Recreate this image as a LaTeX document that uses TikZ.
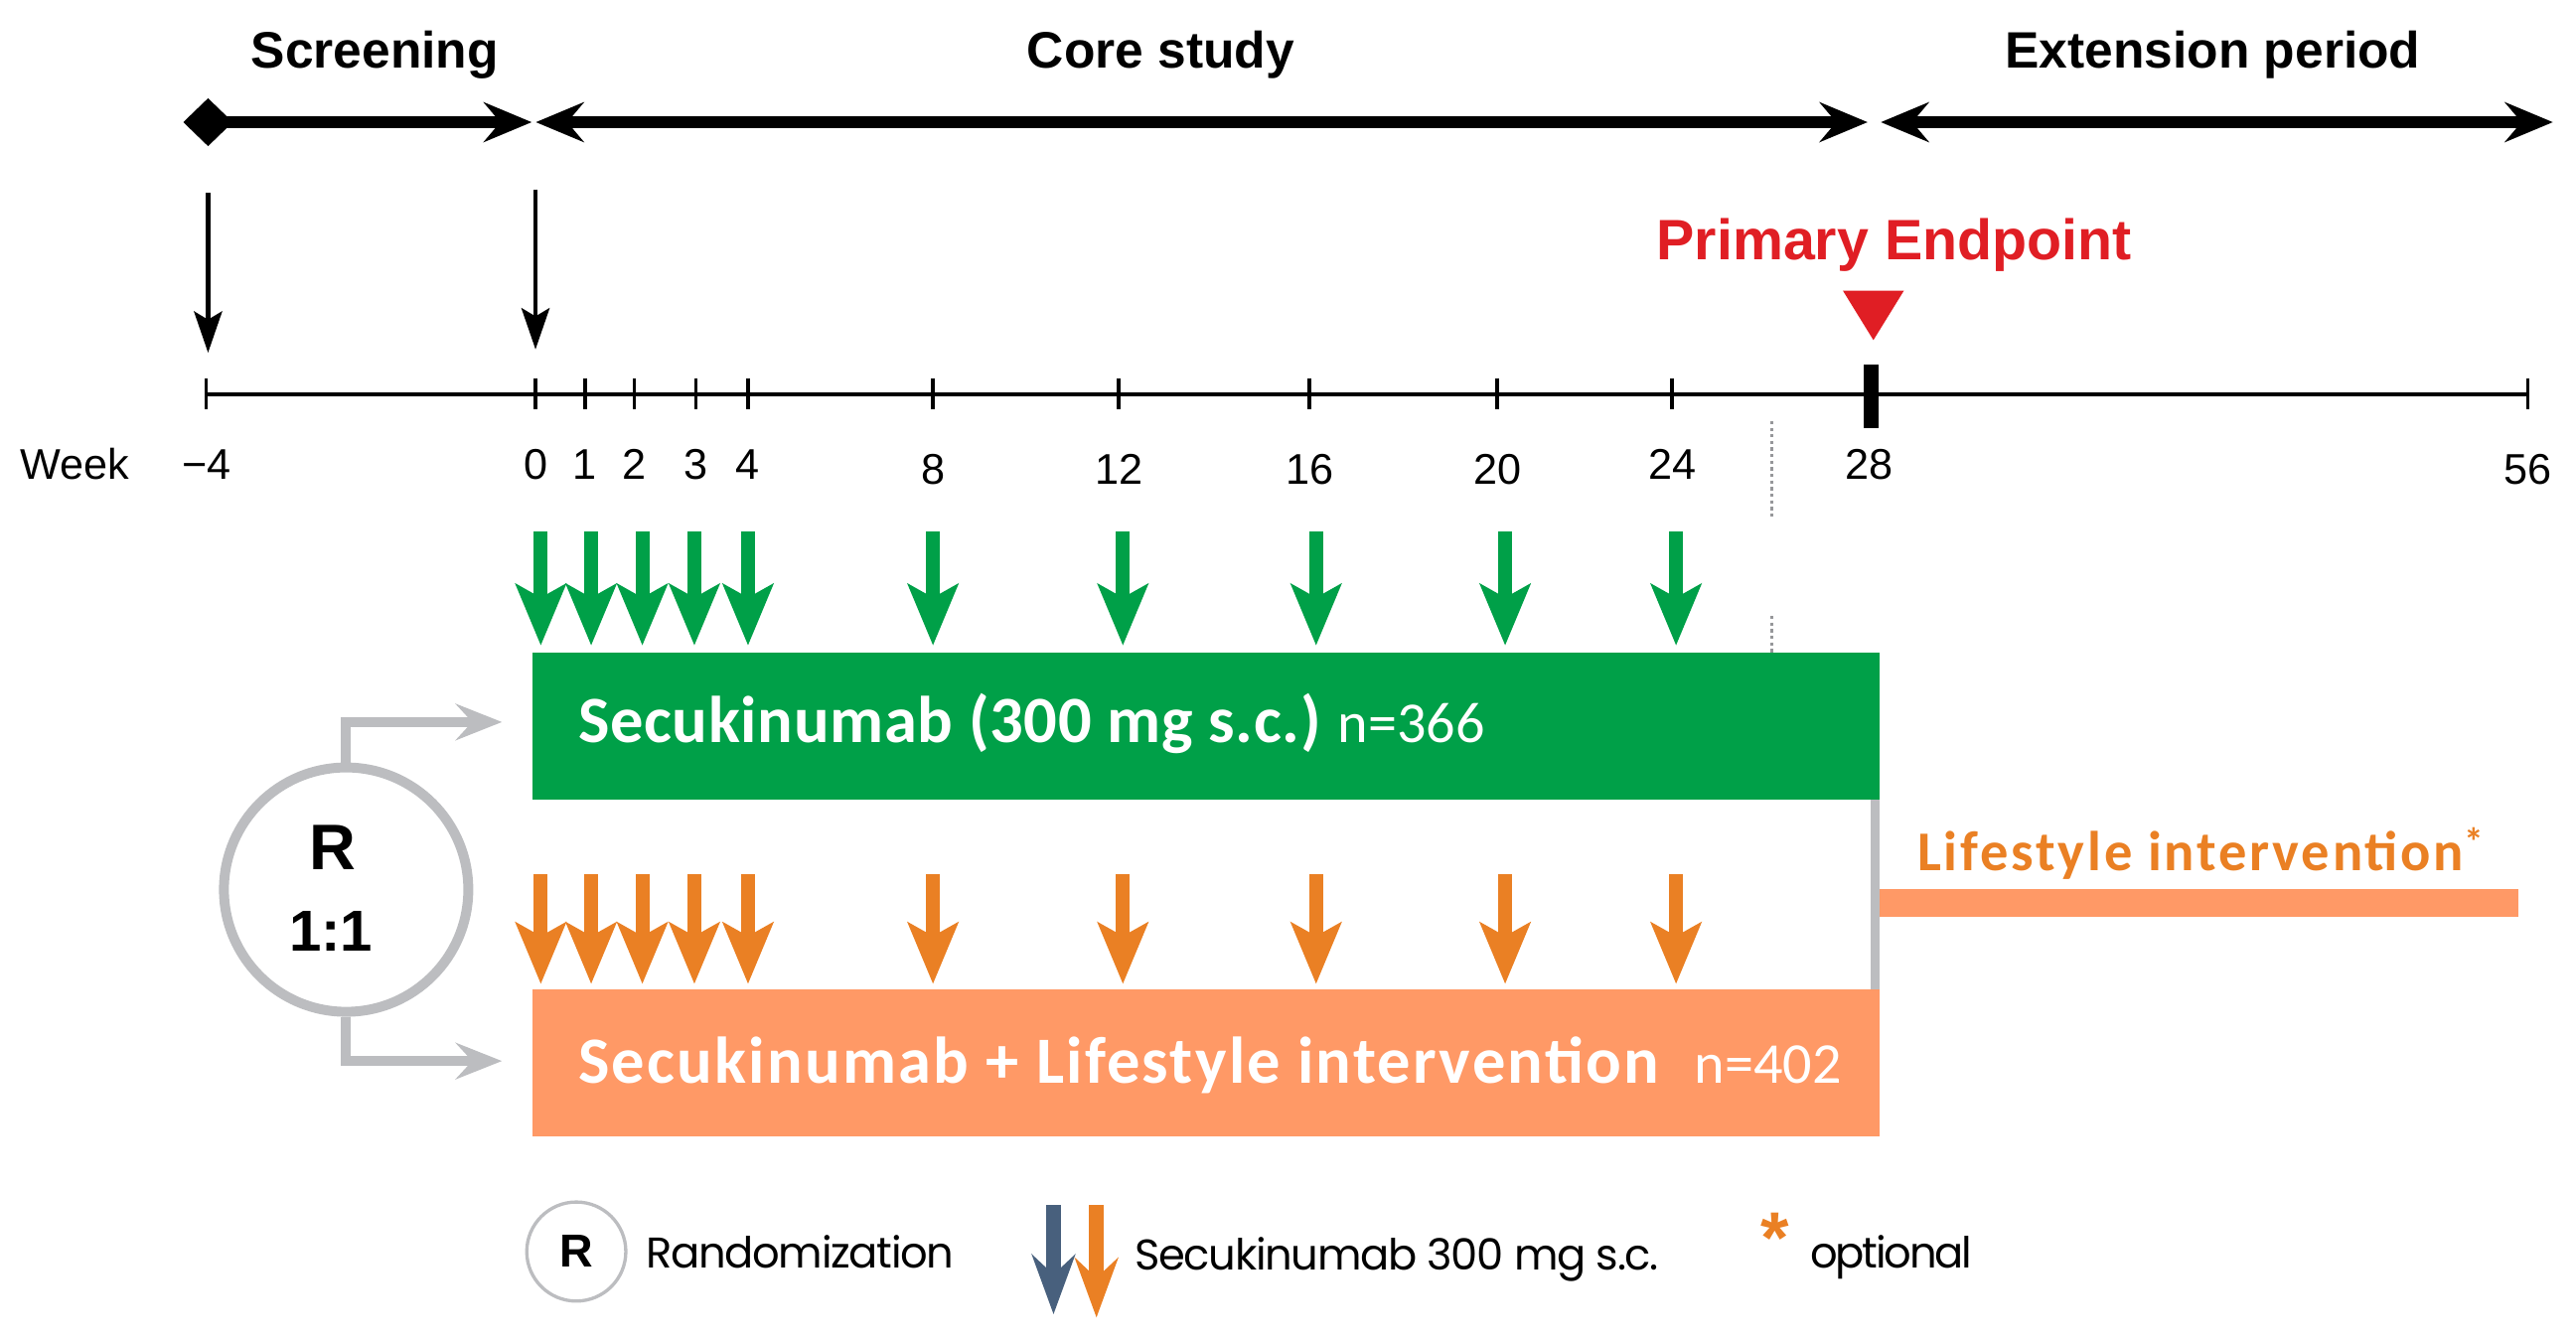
\documentclass[tikz,border=0pt]{standalone}
\usepackage{fontspec}
\setmainfont{Liberation Sans}
\newfontfamily\carlito{Carlito}
\newfontfamily\poppins[LetterSpace=-3]{Poppins}
\usetikzlibrary{arrows.meta}
\definecolor{sgreen}{RGB}{0,160,72}
\definecolor{sorange}{RGB}{234,128,36}
\definecolor{ssalmon}{RGB}{255,153,102}
\definecolor{sgray}{RGB}{188,189,192}
\definecolor{sred}{RGB}{224,30,36}
\definecolor{sblue}{RGB}{72,96,125}
\tikzset{
  headtxt/.style={anchor=base, inner sep=0pt, font=\bfseries\fontsize{31}{37}\selectfont},
  phase/.style={line width=7pt},
  phasehead/.style={{Stealth[length=29pt,width=24pt,inset=10pt]}-{Stealth[length=29pt,width=24pt,inset=10pt]}},
  downarr/.style={line width=2.5pt, -{Stealth[length=25pt,width=17pt,inset=5pt]}},
  tickline/.style={line width=2pt},
  ticklab/.style={anchor=base, inner sep=0pt, font=\fontsize{26}{30}\selectfont},
  dose/.style={line width=8.4pt, -{Stealth[length=37pt,width=30pt,inset=8pt]}},
  armbox/.style={inner sep=0pt, minimum width=815.5pt, minimum height=89pt, anchor=north west},
  armtxt/.style={anchor=base west, inner sep=0pt, text=white, font=\carlito\bfseries\fontsize{40}{44}\selectfont},
  armn/.style={anchor=base west, inner sep=0pt, text=white, font=\carlito\fontsize{35}{40}\selectfont},
  randarr/.style={draw=sgray, line width=6pt, -{Stealth[length=28pt,width=22pt,inset=10pt]}},
  legtxt/.style={anchor=base west, inner sep=0pt, font=\poppins\fontsize{26}{30}\selectfont},
}
\begin{document}
\begin{tikzpicture}[x=1pt,y=-1pt]
\useasboundingbox (0,0) rectangle (1560,812.2);

% phase headings
\node[headtxt] (hscr) at (227,41) {Screening};
\node[headtxt] (hcore) at (703,41) {Core study};
\node[headtxt] (hext) at (1340,41) {Extension period};

% phase arrows
\coordinate (s0) at (111,74);
\coordinate (s1) at (322,74);
\coordinate (c0) at (324.5,74);
\coordinate (c1) at (1131,74);
\coordinate (e0) at (1139,74);
\coordinate (e1) at (1546,74);
\draw[phase, {Diamond[length=30pt,width=29pt]}-{Stealth[length=29pt,width=24pt,inset=10pt]}] (s0) -- (s1);
\draw[phase, phasehead] (c0) -- (c1);
\draw[phase, phasehead] (e0) -- (e1);

% black visit arrows
\coordinate (v1a) at (126,117);
\coordinate (v1b) at (126,213.6);
\coordinate (v2a) at (324.3,114.7);
\coordinate (v2b) at (324.3,211.6);
\draw[downarr] (v1a) -- (v1b);
\draw[downarr] (v2a) -- (v2b);

% timeline
\coordinate (tl0) at (125,239);
\coordinate (tl1) at (1531,239);
\draw[line width=2.5pt] (tl0) -- (tl1);
\foreach \w/\x/\b in {-4/125/290, 0/324.3/290, 1/354.3/290, 2/384/290, 3/421.6/290, 4/453/290, 8/565/293, 12/677.5/293, 16/793/293, 20/906.7/293, 24/1012.6/290, 56/1530.6/293}{
  \draw[tickline] (\x,229) -- (\x,248);
  \node[ticklab] (lab\w) at (\x,\b) {\ifnum\w<0 −4\else\w\fi};
}
\draw[line width=9pt] (1133,221) -- (1133,259);
\node[ticklab] (lab28) at (1132,290) {28};
\node[anchor=base west, inner sep=0pt, font=\fontsize{26}{30}\selectfont] (week) at (12,290) {Week};

% primary endpoint
\node[anchor=base, inner sep=0pt, text=sred, font=\bfseries\fontsize{34.5}{40}\selectfont] (pe) at (1147,157.6) {Primary Endpoint};
\fill[sred] (1116,176) -- (1153,176) -- (1134.5,206) -- cycle;

% dotted guide line
\draw[sgray!80!black, line width=1.5pt, dash pattern=on 2pt off 2pt] (1073,255) -- (1073,313);
\draw[sgray!80!black, line width=1.5pt, dash pattern=on 2pt off 2pt] (1073,373) -- (1073,396);

% dose arrows
\foreach \x in {327.5, 358, 389, 420.5, 453, 565, 680, 797, 911.5, 1015}{
  \draw[dose, sgreen] (\x,322) -- (\x,391);
  \draw[dose, sorange] (\x,529.5) -- (\x,596);
}

% arm boxes
\node[armbox, fill=sgreen] (gbox) at (322.5,395) {};
\node[armbox, fill=ssalmon] (obox) at (322.5,599) {};
\node[armtxt] (gtxt) at (350,450) {\addfontfeature{LetterSpace=1}Secukinumab (300 mg s.c.)};
\node[armn] (gn) at (810,450) {n=366};
\node[armtxt] (otxt) at (350,655.8) {\addfontfeature{LetterSpace=3.4}Secukinumab + Lifestyle intervention};
\node[armn] (on) at (1026,655.8) {n=402};

% connector and lifestyle bar
\draw[sgray, line width=5.6pt] ([xshift=-3pt]gbox.south east) -- ([xshift=-3pt]obox.north east);
\node[fill=ssalmon, inner sep=0pt, minimum width=387pt, minimum height=17pt, anchor=north west] (lbar) at (1138,538) {};
\node[anchor=base west, inner sep=0pt, text=sorange, font=\carlito\bfseries\fontsize{34}{40}\selectfont] (ltxt) at (1161,527.6) {\addfontfeature{LetterSpace=5}Lifestyle intervention\textsuperscript{*}};

% randomisation circle
\node[circle, draw=sgray, line width=6pt, minimum size=148pt, inner sep=0pt] (rnd) at (209.6,538.8) {};
\node[anchor=base, inner sep=0pt, font=\bfseries\fontsize{39}{44}\selectfont] (rtxt) at (201.5,526.6) {R};
\node[anchor=base, inner sep=0pt, font=\bfseries\fontsize{35}{40}\selectfont] (ratio) at (200.5,575.8) {1:1};
\coordinate (gin) at (304,437.3);
\coordinate (oin) at (304,642.6);
\draw[randarr] (rnd.north) |- (gin);
\draw[randarr] (rnd.south) |- (oin);

% legend
\node[circle, draw=sgray, line width=2pt, minimum size=60pt, inner sep=0pt, font=\bfseries\fontsize{28}{32}\selectfont] (legR) at (349,758) {R};
\node[legtxt] (legRt) at (391,768) {Randomization};
\coordinate (lb0) at (638,730);
\coordinate (lb1) at (638,796);
\coordinate (lo0) at (664,730);
\coordinate (lo1) at (664,798);
\draw[sblue, line width=9pt, -{Stealth[length=36pt,width=26pt,inset=12pt]}] (lb0) -- (lb1);
\draw[sorange, line width=9pt, -{Stealth[length=36pt,width=26pt,inset=12pt]}] (lo0) -- (lo1);
\node[legtxt] (legDt) at (687,769) {Secukinumab 300 mg s.c.};
\node[anchor=base west, inner sep=0pt, text=sorange, font=\bfseries\fontsize{44}{48}\selectfont] (star) at (1066,765) {*};
\node[legtxt] (legOt) at (1096,768) {\addfontfeature{LetterSpace=-5}optional};
\end{tikzpicture}
\end{document}
